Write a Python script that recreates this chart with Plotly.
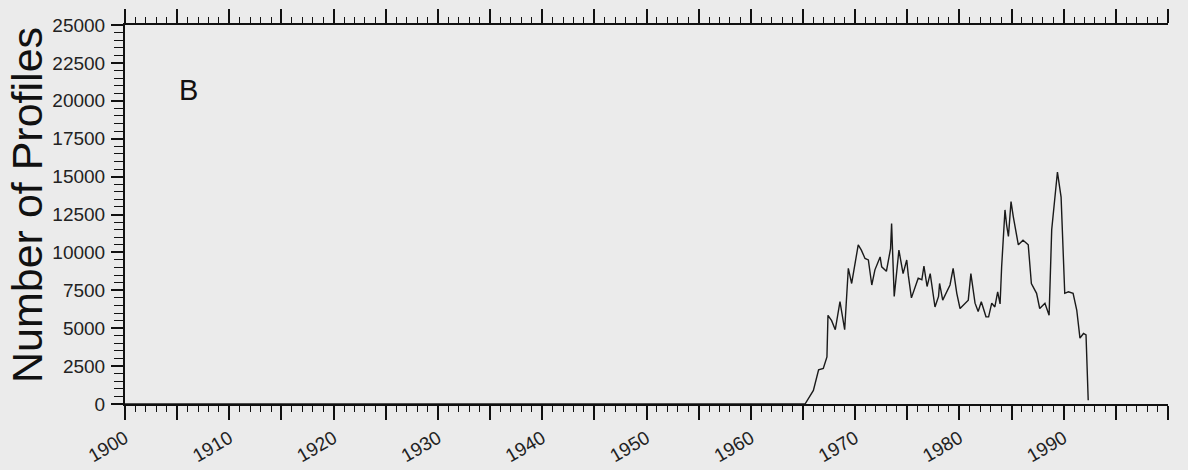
import plotly.graph_objects as go

# ---- data ----
years = [1900.0, 1965.2, 1966.0, 1966.5, 1966.95, 1967.3, 1967.4, 1967.75, 1968.1,
         1968.55, 1969.0, 1969.35, 1969.67, 1970.3, 1970.6, 1970.95, 1971.27, 1971.6,
         1971.9, 1972.4, 1972.55, 1973.0, 1973.4, 1973.5, 1973.75, 1974.2, 1974.6,
         1974.95, 1975.1, 1975.4, 1976.05, 1976.4, 1976.6, 1976.9, 1977.2, 1977.66,
         1978.0, 1978.1, 1978.4, 1978.77, 1979.1, 1979.4, 1979.75, 1980.06, 1980.85,
         1981.1, 1981.5, 1981.8, 1982.1, 1982.55, 1982.8, 1983.1, 1983.4, 1983.67,
         1983.9, 1984.05, 1984.37, 1984.53, 1984.7, 1984.95, 1985.17, 1985.65, 1986.1,
         1986.6, 1986.9, 1987.4, 1987.7, 1988.2, 1988.6, 1988.85, 1989.2, 1989.4,
         1989.75, 1990.1, 1990.45, 1990.9, 1991.25, 1991.56, 1991.9, 1992.14, 1992.35]
profiles = [0, 0, 900, 2250, 2350, 3100, 5850, 5500, 4900,
            6750, 4900, 8950, 7950, 10500, 10150, 9600, 9500, 7850,
            8850, 9700, 9050, 8750, 10250, 11900, 7100, 10150, 8600,
            9500, 8500, 7000, 8300, 8200, 9100, 7750, 8600, 6400,
            7100, 7950, 6850, 7400, 7850, 8950, 7300, 6300, 6850,
            8600, 6650, 6100, 6750, 5750, 5750, 6650, 6400, 7400,
            6600, 9050, 12800, 11800, 11050, 13350, 12350, 10500, 10800,
            10500, 7950, 7300, 6300, 6650, 5850, 11500, 14100, 15300,
            13650, 7300, 7400, 7300, 6200, 4350, 4650, 4550, 250]

x_tick_vals = list(range(1900, 2001, 5))
x_tick_text = [str(v) if v % 10 == 0 and v < 2000 else "" for v in x_tick_vals]
y_tick_vals = list(range(0, 25001, 2500))
y_tick_text = [str(v) for v in y_tick_vals]

panel_label = "B"
y_title = "Number of Profiles"

BG = "#ebebeb"
FONT = "Liberation Sans, Arial, sans-serif"

fig = go.Figure()
fig.add_trace(go.Scatter(x=years, y=profiles, mode="lines",
                         line=dict(color="#1a1a1a", width=1.4),
                         showlegend=False, hoverinfo="skip"))

fig.update_layout(
    width=1188, height=470,
    margin=dict(l=125, r=20, t=25, b=66, autoexpand=False),
    paper_bgcolor=BG, plot_bgcolor=BG,
    font=dict(family=FONT, size=19, color="#222"),
    xaxis=dict(range=[1900, 2000], tickmode="array", tickvals=x_tick_vals,
               ticktext=x_tick_text, tickangle=-30, ticks="outside", ticklen=14,
               tickwidth=1.5, tickcolor="#111", showline=True, linewidth=2,
               linecolor="#111", mirror="ticks", showgrid=False, zeroline=False,
               automargin=False,
               minor=dict(dtick=1, ticks="outside", ticklen=6, tickwidth=1.2,
                          tickcolor="#111", showgrid=False),
               tickfont=dict(size=19, color="#222")),
    yaxis=dict(range=[0, 25000], tickmode="array", tickvals=y_tick_vals,
               ticktext=y_tick_text, ticks="outside", ticklen=12, tickwidth=1.5,
               tickcolor="#111", showline=True, linewidth=2, linecolor="#111",
               showgrid=False, zeroline=False, ticklabelstandoff=2,
               automargin=False,
               minor=dict(dtick=500, ticks="outside", ticklen=9, tickwidth=1.2,
                          tickcolor="#111", showgrid=False),
               tickfont=dict(size=19, color="#222")),
    yaxis2=dict(range=[0, 25000], overlaying="y", side="right", anchor="x",
                tickmode="linear", tick0=0, dtick=625, ticks="outside",
                ticklen=14, tickwidth=1.5, tickcolor="#111", automargin=False,
                showticklabels=False, showline=True, linewidth=2,
                linecolor="#111", showgrid=False, zeroline=False),
)

fig.add_annotation(text=y_title, textangle=-90, xref="paper", yref="paper",
                   x=(27 - 125) / 1043, y=(404 - 205) / 379, showarrow=False,
                   xanchor="center", yanchor="middle",
                   font=dict(family=FONT, size=43, color="#111"))
fig.add_annotation(text=panel_label, xref="paper", yref="paper",
                   x=(188 - 125) / 1043, y=(404 - 89.5) / 379, showarrow=False,
                   xanchor="center", yanchor="middle",
                   font=dict(family=FONT, size=29, color="#111"))

fig.write_html("out.html",
               config={"displayModeBar": False},
               post_script="document.body.style.margin='0';"
                           "document.body.style.background='" + BG + "';")
